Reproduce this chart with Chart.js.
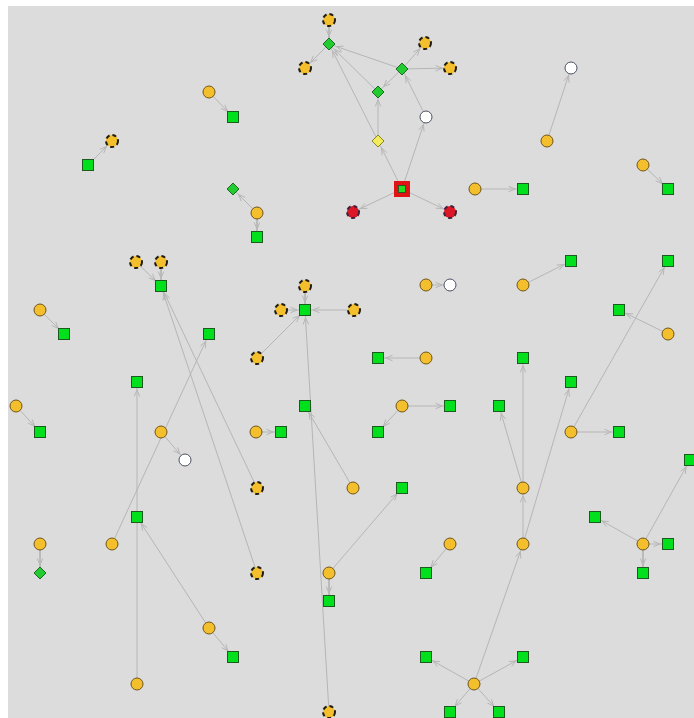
<!DOCTYPE html>
<html>
<head>
<meta charset="utf-8">
<script src="https://cdn.jsdelivr.net/npm/chart.js@4.4.0/dist/chart.umd.min.js"></script>
<style>
  html, body { margin: 0; padding: 0; background: #fff; }
  canvas { display: block; }
</style>
</head>
<body>
<canvas id="network" width="694" height="718"></canvas>
<script>
// node positions (x to the right, y downwards), node numbers start at 1
const nodeX = [
    329, 329, 305, 425, 402, 450, 378, 426, 378, 402,
    353, 450, 571, 547, 209, 233, 112, 88, 643, 668,
    233, 257, 257, 475, 523, 136, 161, 161, 571, 668,
    305, 426, 450, 523, 40, 281, 305, 354, 619, 64,
    209, 668, 257, 378, 426, 523, 137, 571, 16, 305,
    402, 450, 499, 40, 161, 256, 281, 378, 571, 619,
    185, 690, 257, 353, 402, 523, 137, 595, 40, 112,
    450, 523, 643, 668, 40, 257, 329, 426, 643, 329,
    209, 233, 426, 523, 137, 474, 329, 450, 499
];
const nodeY = [
    20, 44, 68, 43, 69, 68, 92, 117, 141, 189,
    212, 212, 68, 141, 92, 117, 141, 165, 165, 189,
    189, 213, 237, 189, 189, 262, 262, 286, 261, 261,
    286, 285, 285, 285, 310, 310, 310, 310, 310, 334,
    334, 334, 358, 358, 358, 358, 382, 382, 406, 406,
    406, 406, 406, 432, 432, 432, 432, 432, 432, 432,
    460, 460, 488, 488, 488, 488, 517, 517, 544, 544,
    544, 544, 544, 544, 573, 573, 573, 573, 573, 601,
    628, 657, 657, 657, 684, 684, 712, 712, 712
];
// y yellow, d yellow dashed, w white, r red dashed, s green square, R red square, g green diamond, k yellow diamond
const nodeKind = (
    'dgddgdgwkR' +
    'rrwyysdsys' +
    'gysysddsss' +
    'dywyydsdss' +
    'sydsysssys' +
    'ysssyyssys' +
    'wsdysyssyy' +
    'yyysgdysss' +
    'ysssyydss'
).split('');
// from -> to
const edges = [
    [1, 2], [2, 3], [5, 2], [5, 4], [5, 6], [5, 7], [7, 2], [9, 7], [9, 2], [10, 9], [10, 8], [8, 5], [10, 11], [10, 12],
    [15, 16], [18, 17], [22, 21], [22, 23], [14, 13], [19, 20], [24, 25],
    [26, 28], [27, 28], [63, 28], [76, 28], [35, 40], [49, 54], [70, 41], [85, 47], [81, 67], [81, 82], [55, 61], [56, 57],
    [31, 37], [36, 37], [38, 37], [43, 37], [87, 37], [64, 50], [32, 33], [34, 29], [42, 39], [45, 44], [51, 52], [51, 58],
    [59, 60], [59, 30], [66, 53], [66, 46], [72, 66], [72, 48], [86, 72], [86, 83], [86, 84], [86, 88], [86, 89],
    [71, 78], [73, 68], [73, 74], [73, 79], [73, 62], [77, 65], [77, 80], [69, 75]
];

const EDGE_COLOR = '#b6b6b6';

function makeNode(kind) {
    const c = document.createElement('canvas');
    c.width = 16; c.height = 16;
    const g = c.getContext('2d');
    const circle = (fill, stroke, lw, dash) => {
        g.beginPath();
        g.arc(8, 8, 6, 0, Math.PI * 2);
        g.fillStyle = fill; g.fill();
        g.setLineDash(dash || []);
        g.lineWidth = lw; g.strokeStyle = stroke; g.stroke();
    };
    const diamond = (fill, stroke) => {
        g.beginPath();
        g.moveTo(8, 2); g.lineTo(14, 8); g.lineTo(8, 14); g.lineTo(2, 8); g.closePath();
        g.fillStyle = fill; g.fill();
        g.lineWidth = 1; g.strokeStyle = stroke; g.stroke();
    };
    if (kind === 'y') circle('#f3bf2c', '#6e5418', 1);
    if (kind === 'd') circle('#f3bf2c', '#1e1a10', 2, [4, 3]);
    if (kind === 'w') circle('#ffffff', '#4a5060', 1);
    if (kind === 'r') circle('#dc1828', '#40203a', 2, [4, 3]);
    if (kind === 's') {
        g.fillStyle = '#00e01c'; g.fillRect(2.5, 2.5, 11, 11);
        g.lineWidth = 1; g.strokeStyle = '#1e5a20'; g.strokeRect(2.5, 2.5, 11, 11);
    }
    if (kind === 'R') {
        g.fillStyle = '#e01414'; g.fillRect(0, 0, 16, 16);
        g.fillStyle = '#22dd22'; g.fillRect(4.5, 4.5, 7, 7);
        g.lineWidth = 1; g.strokeStyle = '#2a5a20'; g.strokeRect(4.5, 4.5, 7, 7);
    }
    if (kind === 'g') diamond('#22cc30', '#1a6a22');
    if (kind === 'k') diamond('#f0ec5c', '#8a8420');
    return c;
}

const kinds = ['y', 'd', 'w', 'r', 's', 'R', 'g', 'k'];

const nodeSets = kinds.map(k => ({
    label: 'nodes ' + k,
    data: nodeX.map((x, i) => ({ x: x, y: nodeY[i], k: nodeKind[i] })).filter(p => p.k === k),
    pointStyle: makeNode(k),
    pointRadius: 7,
    order: 0,
    clip: false,
}));

const edgeSets = edges.map(([a, b]) => ({
    label: 'edge',
    data: [{ x: nodeX[a - 1], y: nodeY[a - 1] }, { x: nodeX[b - 1], y: nodeY[b - 1] }],
    showLine: true,
    borderColor: EDGE_COLOR,
    borderWidth: 1,
    pointRadius: 0,
    order: 1,
}));

const background = {
    id: 'background',
    beforeDraw(chart) {
        const { ctx, scales: { x, y } } = chart;
        ctx.save();
        ctx.fillStyle = '#ffffff';
        ctx.fillRect(0, 0, chart.width, chart.height);
        ctx.fillStyle = '#dcdcdc';
        const x0 = x.getPixelForValue(8), y0 = y.getPixelForValue(6);
        ctx.fillRect(x0, y0, x.getPixelForValue(694) - x0, y.getPixelForValue(718) - y0);
        ctx.restore();
    }
};

const arrows = {
    id: 'arrows',
    beforeDatasetsDraw(chart) {
        const { ctx, scales: { x, y } } = chart;
        ctx.save();
        ctx.strokeStyle = EDGE_COLOR;
        ctx.lineWidth = 1;
        edges.forEach(([a, b]) => {
            const x1 = x.getPixelForValue(nodeX[a - 1]), y1 = y.getPixelForValue(nodeY[a - 1]);
            const x2 = x.getPixelForValue(nodeX[b - 1]), y2 = y.getPixelForValue(nodeY[b - 1]);
            const ang = Math.atan2(y2 - y1, x2 - x1);
            const tx = x2 - Math.cos(ang) * 8, ty = y2 - Math.sin(ang) * 8;
            ctx.beginPath();
            ctx.moveTo(tx - Math.cos(ang - 0.4) * 7, ty - Math.sin(ang - 0.4) * 7);
            ctx.lineTo(tx, ty);
            ctx.lineTo(tx - Math.cos(ang + 0.4) * 7, ty - Math.sin(ang + 0.4) * 7);
            ctx.stroke();
        });
        ctx.restore();
    }
};

(function () {
    const ctx = document.getElementById('network');
    new Chart(ctx, {
        type: 'scatter',
        data: { datasets: [...edgeSets, ...nodeSets] },
        options: {
            responsive: false,
            animation: false,
            devicePixelRatio: 1,
            layout: { padding: 0, autoPadding: false },
            scales: {
                x: { type: 'linear', min: 0, max: 694, display: false },
                y: { type: 'linear', min: 0, max: 718, reverse: true, display: false }
            },
            plugins: {
                legend: { display: false },
                tooltip: { enabled: false },
            },
        },
        plugins: [background, arrows]
    });
})();
</script>
</body>
</html>
